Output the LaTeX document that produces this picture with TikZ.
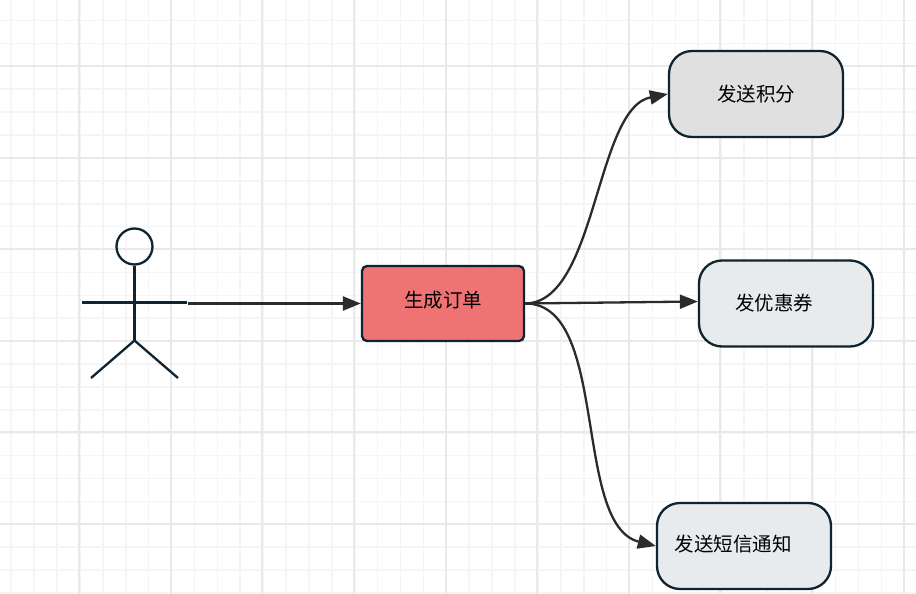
\documentclass[tikz,border=0pt]{standalone}
\usepackage{fontspec}
\setmainfont{Noto Sans CJK SC}
\usetikzlibrary{arrows.meta,positioning}
\definecolor{edgedark}{HTML}{0F2330}
\definecolor{arrowdark}{HTML}{2B2B2B}
\definecolor{gridmajor}{HTML}{E9E9E9}
\definecolor{gridminor}{HTML}{F5F5F5}
\definecolor{orderred}{HTML}{EF7373}
\definecolor{graybox}{HTML}{E0E0E0}
\definecolor{palebox}{HTML}{E8EBEE}
\begin{document}
\begin{tikzpicture}[x=1pt,y=-1pt,
box/.style={draw=edgedark,line width=2.3pt,rounded corners=23pt,minimum width=174pt,minimum height=86pt,inner sep=0pt,font=\fontsize{19.5pt}{22pt}\selectfont,text=black},
arr/.style={draw=arrowdark,line width=2.3pt,-{Triangle[length=18pt,width=14pt]}},
limb/.style={draw=edgedark,line width=2.3pt}]
\useasboundingbox (0,0) rectangle (916,594);
\fill[white] (0,0) rectangle (916,594);
% grid
\foreach \i in {0,...,39} {\draw[gridminor,line width=1.6pt] ({11.2+22.9*\i},0) -- ++(0,594);}
\foreach \i in {0,...,25} {\draw[gridminor,line width=1.6pt] (0,{20.5+22.9*\i}) -- ++(916,0);}
\foreach \i in {0,...,9} {\draw[gridmajor,line width=2pt] ({79.2+91.6*\i},0) -- ++(0,594);}
\foreach \i in {0,...,5} {\draw[gridmajor,line width=2pt] (0,{66+91.6*\i}) -- ++(916,0);}
% actor
\node[draw=edgedark,line width=2.3pt,circle,minimum size=36pt,inner sep=0pt] (head) at (134.5,246.5) {};
\coordinate (hip) at (134.5,340.5);
\coordinate (armleft) at (82,302.5);
\coordinate (armright) at (187,302.5);
\coordinate (footleft) at (91,378);
\coordinate (footright) at (178,378);
\coordinate (flow) at (188,303.5);
\draw[limb](head)--(hip);\draw[limb](armleft)--(armright);\draw[limb](footleft)--(hip)--(footright);
% boxes
\node[box,fill=orderred,rounded corners=5pt,minimum width=162pt,minimum height=75pt] (order) at (443,303.5) {\raisebox{8pt}{生成订单}};
\node[box,fill=graybox] (points) at (756,94) {\raisebox{1pt}{发送积分}};
\node[box,fill=palebox] (coupon) at (786,303.5) {\raisebox{-3pt}{发优惠券}\hspace*{24pt}};
\node[box,fill=palebox] (sms) at (744,546) {\raisebox{5pt}{发送短信通知}\hspace*{22pt}};
% arrows
\draw[arr](flow)--(order.west);
\draw[arr](order.east) .. controls (597,303) and (595,108) .. (points.west);
\draw[arr](order.east)--([yshift=2pt]coupon.west);
\draw[arr](order.east) .. controls (610,303) and (572,525) .. (sms.west);
\end{tikzpicture}
\end{document}
